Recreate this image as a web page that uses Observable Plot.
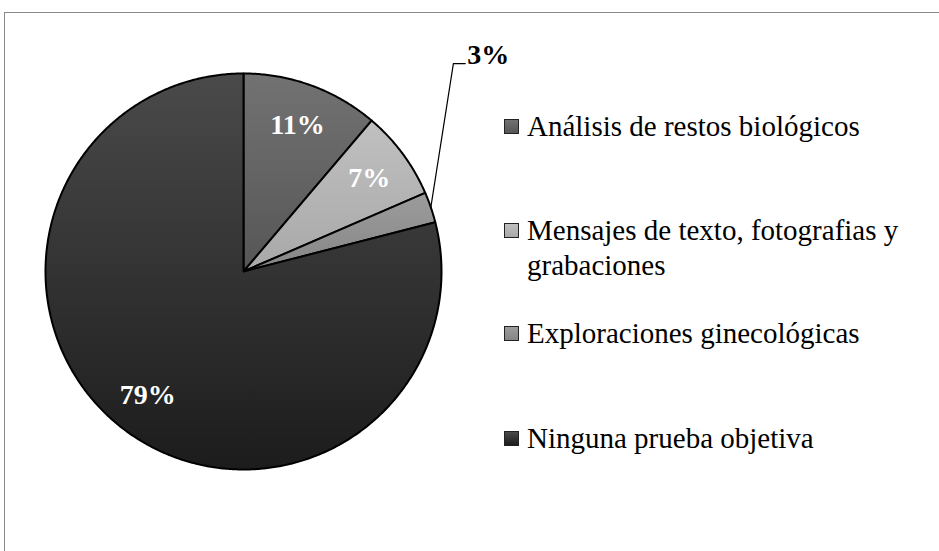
<!DOCTYPE html>
<html>
<head>
<meta charset="utf-8">
<script src="https://cdn.jsdelivr.net/npm/d3@7"></script>
<script src="https://cdn.jsdelivr.net/npm/@observablehq/plot@0.6"></script>
<style>
  html, body { margin: 0; padding: 0; background: #fff; }
  #wrap { position: relative; width: 939px; height: 551px; overflow: hidden; font-family: "Liberation Serif", "Times New Roman", serif; }
  #frame { position: absolute; left: 4px; top: 12px; width: 960px; height: 560px; border-top: 1px solid #8a8a8a; border-left: 1px solid #8a8a8a; pointer-events: none; }
  .item { position: absolute; left: 504px; height: 35px; }
  .sw { position: absolute; left: 0; top: 10px; width: 13px; height: 13px; border: 1.5px solid #222; }
  .lt { position: absolute; left: 23px; top: 0; width: 390px; font-size: 29px; line-height: 35px; color: #000; white-space: normal; }
</style>
</head>
<body>
<div id="wrap"></div>
<script>
// ---- data ----
const categories = ["Análisis de restos biológicos", "Mensajes de texto, fotografias y grabaciones", "Exploraciones ginecológicas", "Ninguna prueba objetiva"];
const values = [11.2, 7.3, 2.5, 79.0];
const labels = ["11%", "7%", "3%", "79%"];
const gradTop = ["#727272", "#c0c0c0", "#9c9c9c", "#4a4a4a"];
const gradBottom = ["#565656", "#a8a8a8", "#868686", "#1c1c1c"];

// ---- geometry (pie of radius 1 centered at 0,0; angle clockwise from top) ----
const total = d3.sum(values);
let cum = 0;
const slices = values.map((v, i) => {
  const a0 = cum / total * 2 * Math.PI;
  cum += v;
  const a1 = cum / total * 2 * Math.PI;
  return {i, name: categories[i], a0, a1, mid: (a0 + a1) / 2, label: labels[i]};
});
const pts = [];
for (const s of slices) {
  pts.push({name: s.name, fill: `url(#g${s.i})`, x: 0, y: 0});
  const n = Math.max(4, Math.ceil((s.a1 - s.a0) / (Math.PI / 360)));
  for (let k = 0; k <= n; k++) {
    const a = s.a0 + (s.a1 - s.a0) * k / n;
    pts.push({name: s.name, fill: `url(#g${s.i})`, x: Math.sin(a), y: Math.cos(a)});
  }
}
// inside labels (all but the small slice)
const inner = slices.filter(s => s.i !== 2).map(s => ({label: s.label, x: 0.79 * Math.sin(s.mid), y: 0.79 * Math.cos(s.mid)}));
// leader for small slice
const small = slices[2];
const leader = [
  {x: Math.sin(small.mid), y: Math.cos(small.mid)},
  {x: 1.06, y: 1.05},
  {x: 1.12, y: 1.05}
];
const outer = [{label: small.label, x: 1.13, y: 1.095}];

// ---- pixel layout: center (243,271), radius 198 ----
const W = 939, H = 551, cx = 243, cy = 271, R = 198;

const chart = Plot.plot({
  width: W, height: H,
  margin: 0,
  x: {domain: [-cx / R, (W - cx) / R], axis: null},
  y: {domain: [(cy - H) / R, cy / R], axis: null},
  color: {type: "identity"},
  style: {background: "transparent", fontFamily: "'Liberation Serif', 'Times New Roman', serif"},
  marks: [
    Plot.line(pts, {x: "x", y: "y", z: "name", fill: "fill", stroke: "#000", strokeWidth: 2, strokeLinejoin: "round", curve: "linear-closed"}),
    Plot.line(leader, {x: "x", y: "y", stroke: "#000", strokeWidth: 1.2}),
    Plot.text(inner, {x: "x", y: "y", text: "label", fill: "#fff", fontSize: 28, fontWeight: "bold"}),
    Plot.text(outer, {x: "x", y: "y", text: "label", fill: "#000", fontSize: 28, fontWeight: "bold", textAnchor: "start"})
  ]
});

// gradient defs (vertical, per-slice bounding box)
const ns = "http://www.w3.org/2000/svg";
const defs = document.createElementNS(ns, "defs");
gradTop.forEach((c, i) => {
  const g = document.createElementNS(ns, "linearGradient");
  g.setAttribute("id", "g" + i);
  g.setAttribute("x1", "0"); g.setAttribute("y1", "0");
  g.setAttribute("x2", "0"); g.setAttribute("y2", "1");
  const s0 = document.createElementNS(ns, "stop");
  s0.setAttribute("offset", "0"); s0.setAttribute("stop-color", c);
  const s1 = document.createElementNS(ns, "stop");
  s1.setAttribute("offset", "1"); s1.setAttribute("stop-color", gradBottom[i]);
  g.appendChild(s0); g.appendChild(s1);
  defs.appendChild(g);
});
chart.insertBefore(defs, chart.firstChild);

const wrap = document.getElementById("wrap");
chart.style.position = "absolute";
chart.style.left = "0px";
chart.style.top = "0px";
wrap.appendChild(chart);

const frame = document.createElement("div");
frame.id = "frame";
wrap.appendChild(frame);

// legend
const legendCenters = [126, 230, 333, 438];
categories.forEach((c, i) => {
  const it = document.createElement("div");
  it.className = "item";
  it.style.top = (legendCenters[i] - 17.5) + "px";
  const sw = document.createElement("div");
  sw.className = "sw";
  sw.style.background = `linear-gradient(${gradTop[i]}, ${gradBottom[i]})`;
  const t = document.createElement("div");
  t.className = "lt";
  t.textContent = c;
  it.appendChild(sw); it.appendChild(t);
  wrap.appendChild(it);
});
</script>
</body>
</html>
